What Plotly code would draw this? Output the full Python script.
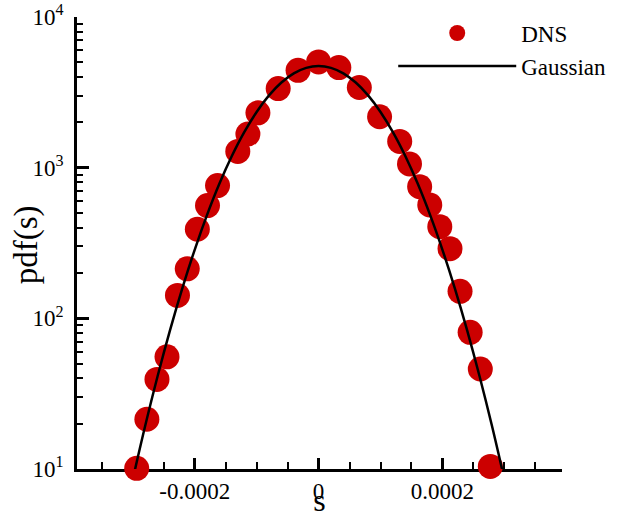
import plotly.graph_objects as go

# ---- data ----
dns_s = [-2.936e-4, -2.772e-4, -2.609e-4, -2.447e-4, -2.278e-4, -2.120e-4, -1.957e-4,
         -1.793e-4, -1.631e-4, -1.304e-4, -1.141e-4, -9.79e-5, -6.52e-5, -3.31e-5,
         0.0, 3.27e-5, 6.58e-5, 9.85e-5, 1.310e-4, 1.468e-4, 1.632e-4, 1.795e-4,
         1.957e-4, 2.122e-4, 2.284e-4, 2.447e-4, 2.611e-4, 2.773e-4]
dns_pdf = [10.1, 21.4, 39.3, 55.5, 142, 213, 390, 560, 760, 1282, 1671, 2312, 3350, 4424,
           5035, 4615, 3404, 2178, 1493, 1059, 748, 566, 406, 290, 151, 80.7, 46.1, 10.4]

gauss_s = [-3.0e-4, -2.8e-4, -2.6e-4, -2.4e-4, -2.2e-4, -2.0e-4, -1.8e-4, -1.6e-4,
           -1.4e-4, -1.2e-4, -1.0e-4, -0.8e-4, -0.6e-4, -0.4e-4, -0.2e-4, 0.0,
           0.2e-4, 0.4e-4, 0.6e-4, 0.8e-4, 1.0e-4, 1.2e-4, 1.4e-4, 1.6e-4,
           1.8e-4, 2.0e-4, 2.2e-4, 2.4e-4, 2.6e-4, 2.8e-4, 3.0e-4]
gauss_pdf = [8.53, 19.27, 41.1, 82.9, 158.2, 285, 486, 784, 1194, 1720, 2343, 3017,
             3672, 4225, 4596, 4727, 4596, 4225, 3672, 3017, 2343, 1720, 1194, 784,
             486, 285, 158.2, 82.9, 41.1, 19.27, 8.53]

x_tick_vals = [-0.0002, 0.0, 0.0002]
x_tick_text = ["-0.0002", "0", "0.0002"]
y_tick_vals = [10, 100, 1000, 10000]
y_tick_text = ["10<sup>1</sup>", "10<sup>2</sup>", "10<sup>3</sup>", "10<sup>4</sup>"]
x_title = "s"
y_title = "pdf(s)"

FONT = "Times New Roman, Liberation Serif, Times, serif"

fig = go.Figure()
fig.add_trace(go.Scatter(
    x=dns_s, y=dns_pdf, mode="markers", name="DNS",
    marker=dict(size=25, color="#cc0000", line=dict(width=0)),
    cliponaxis=False,
))
fig.add_trace(go.Scatter(
    x=gauss_s, y=gauss_pdf, mode="lines", name="Gaussian",
    line=dict(color="black", width=2.5, shape="spline"),
))

fig.update_layout(
    width=623, height=518,
    margin=dict(l=77, r=50, t=16, b=49),
    paper_bgcolor="white", plot_bgcolor="white",
    font=dict(family=FONT, size=23, color="black"),
    legend=dict(x=0.652, y=1.012, xanchor="left", yanchor="top",
                bgcolor="rgba(0,0,0,0)", font=dict(family=FONT, size=23),
                itemwidth=118, tracegroupgap=0),
    xaxis=dict(
        range=[-3.9e-4, 3.93e-4],
        automargin=False,
        showgrid=False, zeroline=False,
        showline=True, linecolor="black", linewidth=2.5,
        ticks="inside", ticklen=11, tickwidth=2.5, tickcolor="black",
        tickmode="array", tickvals=x_tick_vals, ticktext=x_tick_text,
        minor=dict(tickmode="linear", tick0=0, dtick=5e-5, ticks="inside",
                   ticklen=7, tickwidth=1.5, tickcolor="black", showgrid=False),
        title=dict(text=x_title, font=dict(family=FONT, size=32), standoff=18),
        layer="below traces",
    ),
    yaxis=dict(
        type="log", range=[1, 4],
        automargin=False,
        showgrid=False, zeroline=False,
        showline=True, linecolor="black", linewidth=2.5,
        ticks="inside", ticklen=12, tickwidth=2.5, tickcolor="black",
        tickmode="array", tickvals=y_tick_vals, ticktext=y_tick_text,
        minor=dict(tickmode="linear", dtick="D1", ticks="inside",
                   ticklen=6, tickwidth=1.5, tickcolor="black", showgrid=False),
        ticklabelstandoff=6,
        layer="below traces",
    ),
    annotations=[
        dict(text=y_title, xref="paper", yref="paper", x=-0.105, y=0.495,
             xanchor="center", yanchor="middle", textangle=-90, showarrow=False,
             font=dict(family=FONT, size=33)),
    ],
)

fig.write_html("out.html", config={"displayModeBar": False},
               post_script="document.body.style.margin='0px';")
